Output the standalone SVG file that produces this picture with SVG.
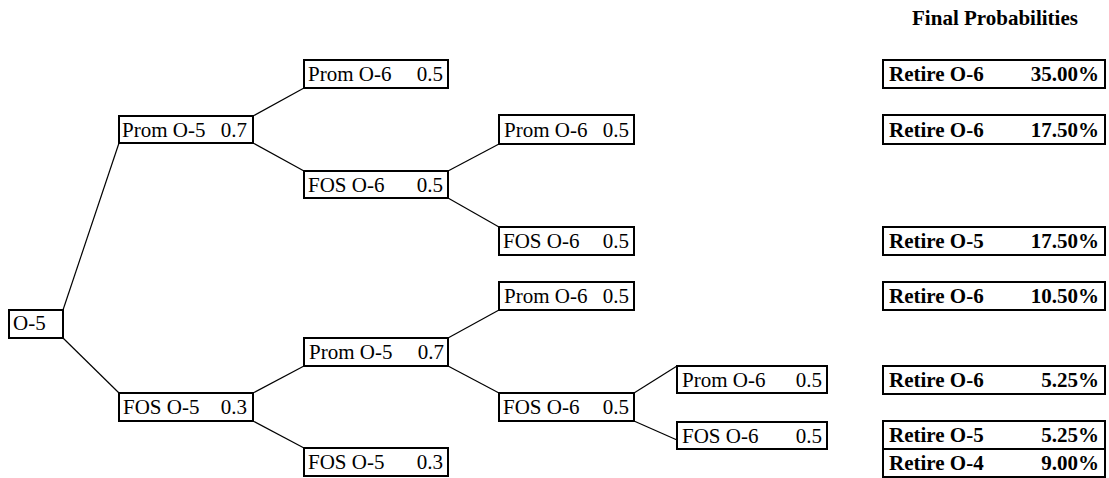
<svg xmlns="http://www.w3.org/2000/svg" width="1109" height="478" viewBox="0 0 1109 478">
<style>
.box{fill:#fff;stroke:#000;stroke-width:2}
.t{font-family:"Liberation Serif","Times New Roman",serif;font-size:21px;fill:#000}
.b{font-weight:bold}
.r{text-anchor:end}
.c{fill:none;stroke:#000;stroke-width:1.2}
</style>
<rect width="1109" height="478" fill="#fff"/>
<g id="connectors">
<line class="c" x1="63" y1="310" x2="119" y2="143"/>
<line class="c" x1="63" y1="338" x2="119" y2="393"/>
<line class="c" x1="253" y1="116" x2="304" y2="88"/>
<line class="c" x1="253" y1="143" x2="304" y2="171"/>
<line class="c" x1="448" y1="171" x2="499" y2="144"/>
<line class="c" x1="448" y1="198" x2="499" y2="227"/>
<line class="c" x1="253" y1="393" x2="304" y2="366"/>
<line class="c" x1="253" y1="421" x2="304" y2="448"/>
<line class="c" x1="448" y1="338" x2="499" y2="310"/>
<line class="c" x1="448" y1="366" x2="499" y2="393"/>
<line class="c" x1="634" y1="393" x2="677" y2="366"/>
<line class="c" x1="634" y1="421" x2="677" y2="440"/>
</g>
<g id="n0"><rect class="box" x="9" y="310" width="54" height="28"/><text class="t" x="13" y="330">O-5</text></g>
<g id="n1"><rect class="box" x="119" y="116" width="134" height="27"/><text class="t" x="122" y="137">Prom O-5</text><text class="t r" x="247" y="137">0.7</text></g>
<g id="n2"><rect class="box" x="119" y="393" width="134" height="28"/><text class="t" x="123" y="414">FOS O-5</text><text class="t r" x="247" y="414">0.3</text></g>
<g id="n3"><rect class="box" x="304" y="60" width="144" height="28"/><text class="t" x="308" y="81">Prom O-6</text><text class="t r" x="443" y="81">0.5</text></g>
<g id="n4"><rect class="box" x="304" y="171" width="144" height="27"/><text class="t" x="308" y="192">FOS O-6</text><text class="t r" x="443" y="192">0.5</text></g>
<g id="n5"><rect class="box" x="304" y="338" width="144" height="28"/><text class="t" x="309" y="359">Prom O-5</text><text class="t r" x="444" y="359">0.7</text></g>
<g id="n6"><rect class="box" x="304" y="448" width="144" height="28"/><text class="t" x="308" y="469">FOS O-5</text><text class="t r" x="443" y="469">0.3</text></g>
<g id="n7"><rect class="box" x="499" y="115" width="135" height="29"/><text class="t" x="504" y="137">Prom O-6</text><text class="t r" x="629" y="137">0.5</text></g>
<g id="n8"><rect class="box" x="499" y="227" width="135" height="28"/><text class="t" x="503" y="248">FOS O-6</text><text class="t r" x="629" y="248">0.5</text></g>
<g id="n9"><rect class="box" x="499" y="282" width="135" height="28"/><text class="t" x="504" y="303">Prom O-6</text><text class="t r" x="629" y="303">0.5</text></g>
<g id="n10"><rect class="box" x="499" y="393" width="135" height="28"/><text class="t" x="503" y="414">FOS O-6</text><text class="t r" x="629" y="414">0.5</text></g>
<g id="n11"><rect class="box" x="677" y="366" width="150" height="27"/><text class="t" x="682" y="387">Prom O-6</text><text class="t r" x="822" y="387">0.5</text></g>
<g id="n12"><rect class="box" x="677" y="422" width="150" height="27"/><text class="t" x="682" y="443">FOS O-6</text><text class="t r" x="822" y="443">0.5</text></g>
<g id="title"><text class="t b" x="995" y="25" text-anchor="middle">Final Probabilities</text></g>
<g id="f1"><rect class="box" x="883" y="60" width="222" height="28"/><text class="t b" x="889" y="81">Retire O-6</text><text class="t b r" x="1099" y="81">35.00%</text></g>
<g id="f2"><rect class="box" x="883" y="115" width="222" height="29"/><text class="t b" x="889" y="137">Retire O-6</text><text class="t b r" x="1099" y="137">17.50%</text></g>
<g id="f3"><rect class="box" x="883" y="227" width="222" height="28"/><text class="t b" x="889" y="248">Retire O-5</text><text class="t b r" x="1099" y="248">17.50%</text></g>
<g id="f4"><rect class="box" x="883" y="282" width="222" height="28"/><text class="t b" x="889" y="303">Retire O-6</text><text class="t b r" x="1099" y="303">10.50%</text></g>
<g id="f5"><rect class="box" x="883" y="366" width="222" height="28"/><text class="t b" x="889" y="387">Retire O-6</text><text class="t b r" x="1099" y="387">5.25%</text></g>
<g id="f6"><rect class="box" x="883" y="421" width="222" height="28"/><text class="t b" x="889" y="442">Retire O-5</text><text class="t b r" x="1099" y="442">5.25%</text></g>
<g id="f7"><rect class="box" x="883" y="449" width="222" height="28"/><text class="t b" x="889" y="470">Retire O-4</text><text class="t b r" x="1099" y="470">9.00%</text></g>
</svg>
